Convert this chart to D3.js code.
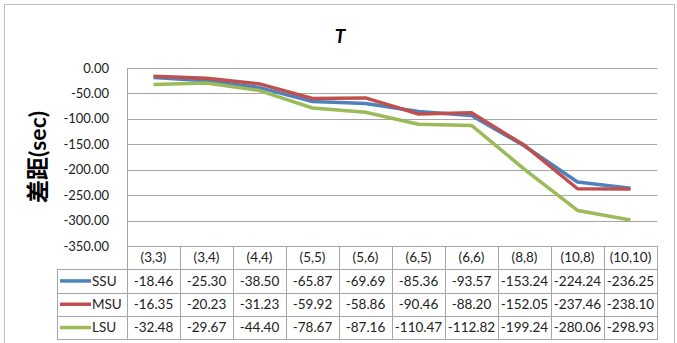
<!DOCTYPE html>
<html>
<head>
<meta charset="utf-8">
<script src="https://cdn.jsdelivr.net/npm/d3@7"></script>
<style>
  body { margin: 0; background: #fff; }
  svg text { font-family: Lato, "Noto Sans CJK SC", sans-serif; }
</style>
</head>
<body>
<svg id="chart" width="677" height="343"></svg>
<script>
// Chart data
var categories = ['(3,3)', '(3,4)', '(4,4)', '(5,5)', '(5,6)', '(6,5)', '(6,6)', '(8,8)', '(10,8)', '(10,10)'];
var seriesNames = ['SSU', 'MSU', 'LSU'];
var ssuValues = [-18.46, -25.30, -38.50, -65.87, -69.69, -85.36, -93.57, -153.24, -224.24, -236.25];
var msuValues = [-16.35, -20.23, -31.23, -59.92, -58.86, -90.46, -88.20, -152.05, -237.46, -238.10];
var lsuValues = [-32.48, -29.67, -44.40, -78.67, -87.16, -110.47, -112.82, -199.24, -280.06, -298.93];
var yTicks = [0, -50, -100, -150, -200, -250, -300, -350];
var seriesColors = ['#4F81BD', '#C0504D', '#9BBB59'];

var series = [ssuValues, msuValues, lsuValues];

var svg = d3.select('#chart');

// Outer frame
svg.append('rect')
   .attr('x', 4.5).attr('y', 4.5)
   .attr('width', 670).attr('height', 350)
   .attr('fill', '#fff')
   .attr('stroke', '#BFBFBF');

// Plot area (note: "top" is reserved on window, so prefix names)
var plotLeft = 127, plotRight = 657, plotTop = 68, plotBottom = 246;
var rowH = 23.3, legendLeft = 57;

var x = d3.scaleBand().domain(categories).range([plotLeft, plotRight]);
var y = d3.scaleLinear().domain([-350, 0]).range([plotBottom, plotTop]);

function fmt(d) { return d3.format('.2f')(d).replace('\u2212', '-'); }

// Gridlines
svg.append('g').selectAll('line')
   .data(yTicks)
   .join('line')
   .attr('x1', plotLeft).attr('x2', plotRight)
   .attr('y1', function(d) { return Math.round(y(d)) + 0.5; })
   .attr('y2', function(d) { return Math.round(y(d)) + 0.5; })
   .attr('stroke', '#A6A6A6');

// Vertical axis line
svg.append('line')
   .attr('x1', plotLeft + 0.5).attr('x2', plotLeft + 0.5)
   .attr('y1', plotTop).attr('y2', plotBottom)
   .attr('stroke', '#A6A6A6');

// Y tick labels
svg.append('g').selectAll('text')
   .data(yTicks)
   .join('text')
   .attr('x', 109)
   .attr('y', function(d) { return y(d); })
   .attr('dy', '0.35em')
   .attr('text-anchor', 'end')
   .attr('font-size', 13)
   .attr('fill', '#222')
   .text(fmt);

// Title
svg.append('text')
   .attr('x', 340).attr('y', 43)
   .attr('text-anchor', 'middle')
   .attr('font-size', 19)
   .attr('font-weight', 'bold')
   .attr('font-style', 'italic')
   .attr('fill', '#000')
   .text('T');

// Y axis title
svg.append('text')
   .attr('transform', 'translate(38,157) rotate(-90)')
   .attr('text-anchor', 'middle')
   .attr('dy', '0.35em')
   .attr('font-size', 23)
   .attr('font-weight', 'bold')
   .attr('fill', '#000')
   .text('差距(sec)');

// Lines
var line = d3.line()
   .x(function(d, i) { return x(categories[i]) + x.bandwidth() / 2; })
   .y(function(d) { return y(d); });

svg.append('g').selectAll('path')
   .data(series)
   .join('path')
   .attr('d', line)
   .attr('fill', 'none')
   .attr('stroke', function(d, i) { return seriesColors[i]; })
   .attr('stroke-width', 3.5)
   .attr('stroke-linejoin', 'round');

// Data table
var table = svg.append('g');
var gridColor = '#A6A6A6';

// column verticals
x.domain().forEach(function(c) {
  table.append('line')
       .attr('x1', Math.round(x(c)) + 0.5).attr('x2', Math.round(x(c)) + 0.5)
       .attr('y1', plotBottom).attr('y2', plotBottom + rowH * 4)
       .attr('stroke', gridColor);
});
table.append('line')
     .attr('x1', plotRight + 0.5).attr('x2', plotRight + 0.5)
     .attr('y1', plotBottom).attr('y2', plotBottom + rowH * 4)
     .attr('stroke', gridColor);
table.append('line')
     .attr('x1', legendLeft + 0.5).attr('x2', legendLeft + 0.5)
     .attr('y1', plotBottom + rowH).attr('y2', plotBottom + rowH * 4)
     .attr('stroke', gridColor);
for (var r = 1; r <= 4; r++) {
  table.append('line')
       .attr('x1', legendLeft).attr('x2', plotRight + 1)
       .attr('y1', Math.round(plotBottom + rowH * r) + 0.5)
       .attr('y2', Math.round(plotBottom + rowH * r) + 0.5)
       .attr('stroke', gridColor);
}

// category labels
table.selectAll('text.cat')
     .data(categories)
     .join('text')
     .attr('class', 'cat')
     .attr('x', function(d) { return x(d) + x.bandwidth() / 2; })
     .attr('y', plotBottom + rowH / 2)
     .attr('dy', '0.35em')
     .attr('text-anchor', 'middle')
     .attr('font-size', 13.5)
     .attr('fill', '#222')
     .text(function(d) { return d; });

// series rows
series.forEach(function(vals, s) {
  var cy = plotBottom + rowH * (s + 1.5);
  table.append('line')
       .attr('x1', 60).attr('x2', 91)
       .attr('y1', cy).attr('y2', cy)
       .attr('stroke', seriesColors[s])
       .attr('stroke-width', 3.5);
  table.append('text')
       .attr('x', 92).attr('y', cy)
       .attr('dy', '0.35em')
       .attr('font-size', 13.5)
       .attr('fill', '#222')
       .text(seriesNames[s]);
  table.selectAll('text.v' + s)
       .data(vals)
       .join('text')
       .attr('class', 'v' + s)
       .attr('x', function(d, i) { return x(categories[i]) + x.bandwidth() / 2; })
       .attr('y', cy)
       .attr('dy', '0.35em')
       .attr('text-anchor', 'middle')
       .attr('font-size', 13.5)
       .attr('fill', '#222')
       .text(fmt);
});
</script>
</body>
</html>
